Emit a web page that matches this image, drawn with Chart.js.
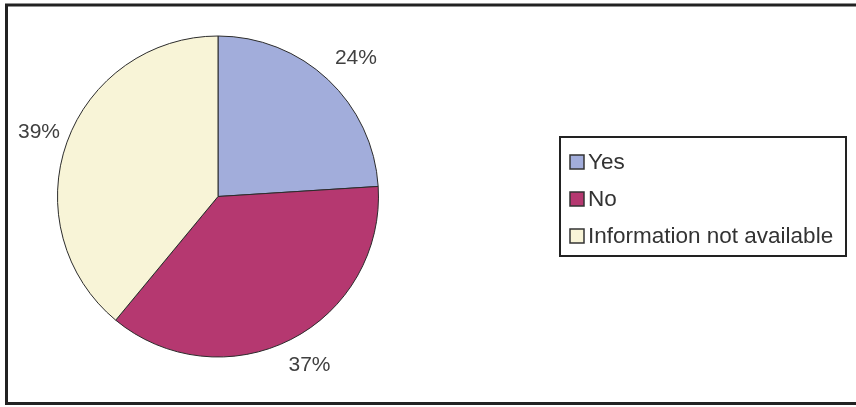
<!DOCTYPE html>
<html>
<head>
<meta charset="utf-8">
<script src="https://cdn.jsdelivr.net/npm/chart.js@4.4.1/dist/chart.umd.min.js"></script>
<style>
  html, body { margin: 0; padding: 0; background: #fff; }
  #wrap { width: 856px; height: 407px; position: relative; }
</style>
</head>
<body>
<div id="wrap"><canvas id="pie" width="856" height="407"></canvas></div>
<script>
//Dados do gráfico
const categories = ['Yes', 'No', 'Information not available'];
const percentages = [24, 37, 39];
const sliceColors = ['#a2addb', '#b53870', '#f8f4d7'];

const FONT = '"Liberation Sans", Arial, sans-serif';

//Moldura externa da figura
const framePlugin = {
  id: 'frame',
  beforeDraw(chart) {
    const ctx = chart.ctx;
    ctx.save();
    ctx.strokeStyle = '#222';
    ctx.lineWidth = 3;
    ctx.strokeRect(6.5, 5, chart.width + 10, 398.5);
    ctx.restore();
  }
};

//Rótulos de porcentagem fora das fatias (estilo "extremidade externa")
const outsideLabels = {
  id: 'outsideLabels',
  afterDatasetsDraw(chart) {
    const meta = chart.getDatasetMeta(0);
    const ctx = chart.ctx;
    ctx.save();
    ctx.font = '21px ' + FONT;
    ctx.fillStyle = '#404040';
    ctx.textAlign = 'center';
    ctx.textBaseline = 'middle';
    meta.data.forEach((arc, i) => {
      const text = percentages[i] + '%';
      const halfW = ctx.measureText(text).width / 2;
      const halfH = 9;
      const mid = (arc.startAngle + arc.endAngle) / 2;
      const c = Math.cos(mid), s = Math.sin(mid);
      const r = arc.outerRadius + 20;
      let x = arc.x + c * r + c * halfW;
      let y = arc.y + s * r + s * halfH;
      //mantém o rótulo dentro da área da figura
      x = Math.max(18 + halfW, x);
      ctx.fillText(text, x, y);
    });
    ctx.restore();
  }
};

//Legenda com caixa, desenhada à direita
const boxLegend = {
  id: 'boxLegend',
  afterDraw(chart) {
    const ctx = chart.ctx;
    const left = 560, top = 137, w = 286, h = 119;
    ctx.save();
    ctx.strokeStyle = '#222';
    ctx.lineWidth = 2;
    ctx.strokeRect(left, top, w, h);
    ctx.font = '22.5px ' + FONT;
    ctx.textBaseline = 'middle';
    categories.forEach((label, i) => {
      const cy = 162 + i * 37;
      ctx.fillStyle = sliceColors[i];
      ctx.fillRect(570, cy - 7, 14, 14);
      ctx.strokeStyle = '#333';
      ctx.lineWidth = 1.5;
      ctx.strokeRect(570, cy - 7, 14, 14);
      ctx.fillStyle = '#333';
      ctx.fillText(label, 588, cy + 1);
    });
    ctx.restore();
  }
};

new Chart(document.getElementById('pie').getContext('2d'), {
  type: 'pie',
  data: {
    labels: categories,
    datasets: [{
      data: percentages,
      backgroundColor: sliceColors,
      borderColor: '#2b2b2b',
      borderWidth: 1
    }]
  },
  options: {
    responsive: false,
    animation: false,
    layout: { padding: { left: 57, right: 477, top: 35.5, bottom: 49.5 } },
    plugins: {
      legend: { display: false },
      tooltip: { enabled: false }
    }
  },
  plugins: [framePlugin, outsideLabels, boxLegend]
});
</script>
</body>
</html>
